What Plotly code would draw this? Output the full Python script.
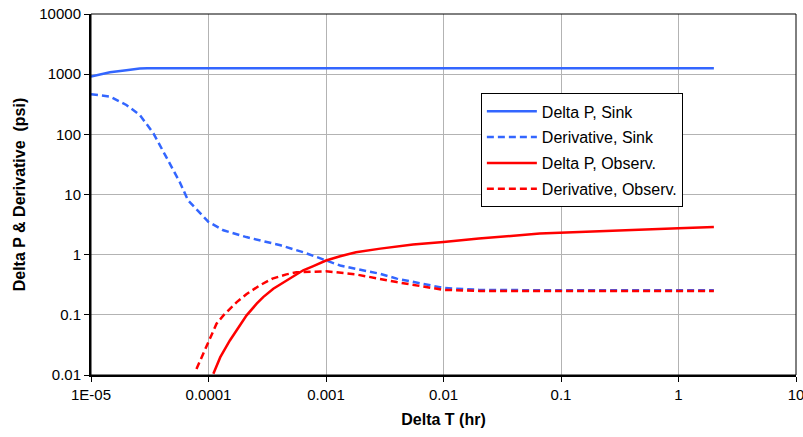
import plotly.graph_objects as go

# ---- data ----
sink_dp_t = [1e-5, 1.45e-5, 2e-5, 2.3e-5, 2.6e-5, 3e-5, 1e-4, 1e-3, 1e-2, 0.1, 1, 2]
sink_dp = [910, 1075, 1160, 1210, 1240, 1255, 1255, 1255, 1255, 1255, 1255, 1255]

sink_der_t = [1e-5, 1.45e-5, 2e-5, 2.6e-5, 3.4e-5, 4.4e-5, 5.7e-5, 6.7e-5, 8.5e-5, 1e-4,
              1.34e-4, 2.1e-4, 2.92e-4, 4.1e-4, 6.4e-4, 1e-3, 1.32e-3, 1.8e-3, 2.9e-3,
              4e-3, 5.5e-3, 1e-2, 2e-2, 5e-2, 0.1, 1, 2]
sink_der = [464, 425, 308, 210, 104, 42, 16, 8, 4.8, 3.5,
            2.54, 1.96, 1.68, 1.43, 1.1, 0.8, 0.66, 0.58, 0.48,
            0.4, 0.35, 0.28, 0.26, 0.255, 0.255, 0.255, 0.255]

obs_dp_t = [1.1e-4, 1.26e-4, 1.52e-4, 1.85e-4, 2.11e-4, 2.57e-4, 2.92e-4, 3.56e-4, 4.06e-4,
            5.27e-4, 6.4e-4, 7.8e-4, 1e-3, 1.32e-3, 1.8e-3, 2.9e-3, 5.5e-3, 1e-2,
            2e-2, 0.066, 0.1, 0.245, 0.47, 1, 2]
obs_dp = [0.0105, 0.0198, 0.0375, 0.0667, 0.098, 0.153, 0.197, 0.272, 0.32,
          0.435, 0.55, 0.646, 0.8, 0.94, 1.1, 1.26, 1.47, 1.62,
          1.85, 2.24, 2.32, 2.47, 2.6, 2.74, 2.88]

obs_der_t = [7.9e-5, 9.0e-5, 1e-4, 1.17e-4, 1.34e-4, 1.74e-4, 2.1e-4, 2.74e-4, 3.5e-4,
             4.6e-4, 5.6e-4, 1e-3, 1.8e-3, 4e-3, 1e-2, 2e-2, 0.1, 1, 2]
obs_der = [0.0126, 0.0226, 0.037, 0.071, 0.098, 0.163, 0.22, 0.31, 0.4,
           0.47, 0.51, 0.53, 0.47, 0.35, 0.26, 0.25, 0.25, 0.25, 0.25]

x_tickvals = [1e-5, 1e-4, 1e-3, 1e-2, 0.1, 1, 10]
x_ticktext = ["1E-05", "0.0001", "0.001", "0.01", "0.1", "1", "10"]
y_tickvals = [0.01, 0.1, 1, 10, 100, 1000, 10000]
y_ticktext = ["0.01", "0.1", "1", "10", "100", "1000", "10000"]

BLUE = "#3366ff"
RED = "#ff0000"
FONT = "Liberation Sans, Arial, sans-serif"

fig = go.Figure()
fig.add_trace(go.Scatter(x=sink_dp_t, y=sink_dp, mode="lines", name="Delta P, Sink",
                         line=dict(color=BLUE, width=2.5), legendgroup="a"))
fig.add_trace(go.Scatter(x=sink_der_t, y=sink_der, mode="lines", name="Derivative, Sink",
                         line=dict(color=BLUE, width=2.5, dash="7px,4px"),
                         legendgroup="b"))
fig.add_trace(go.Scatter(x=obs_dp_t, y=obs_dp, mode="lines", name="Delta P, Observ.",
                         line=dict(color=RED, width=2.5), legendgroup="c"))
fig.add_trace(go.Scatter(x=obs_der_t, y=obs_der, mode="lines", name="Derivative, Observ.",
                         line=dict(color=RED, width=2.5, dash="7px,4px"),
                         legendgroup="d"))

fig.update_layout(
    width=803, height=437,
    margin=dict(l=91, r=7, t=14, b=62),
    paper_bgcolor="white", plot_bgcolor="white",
    font=dict(family=FONT, size=15, color="black"),
    showlegend=True,
    legend=dict(x=0.553, y=0.78, xanchor="left", yanchor="top",
                bgcolor="white", bordercolor="black", borderwidth=1,
                font=dict(size=16), traceorder="grouped", tracegroupgap=2,
                itemwidth=50),
    xaxis=dict(type="log", range=[-5, 1], tickvals=x_tickvals, ticktext=x_ticktext,
               showgrid=True, gridcolor="#b3b3b3", gridwidth=1,
               showline=True, linecolor="black", linewidth=2,
               ticks="outside", ticklen=5, tickcolor="black", tickwidth=1,
               ticklabeloverflow="allow", automargin=False,
               title=dict(text="<b>Delta T (hr)</b>", font=dict(size=16), standoff=12),
               zeroline=False),
    yaxis=dict(type="log", range=[-2, 4], tickvals=y_tickvals, ticktext=y_ticktext,
               showgrid=True, gridcolor="#b3b3b3", gridwidth=1,
               showline=True, linecolor="black", linewidth=2,
               ticks="outside", ticklen=5, tickcolor="black", tickwidth=1,
               automargin=False,
               title=dict(text="<b>Delta P & Derivative  (psi)</b>", font=dict(size=16),
                          standoff=10),
               zeroline=False),
    shapes=[dict(type="rect", xref="paper", yref="paper", x0=0, x1=1, y0=0, y1=1,
                 line=dict(color="black", width=1), layer="above")],
)

fig.write_html("out.html")
